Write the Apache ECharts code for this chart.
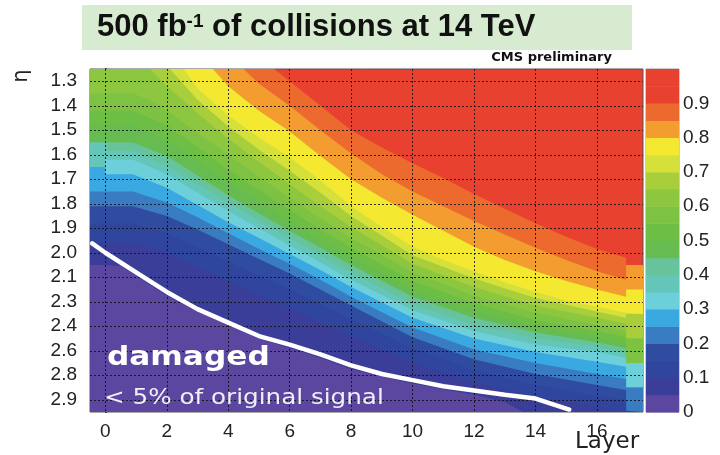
<!DOCTYPE html>
<html>
<head>
<meta charset="utf-8">
<script src="https://cdn.jsdelivr.net/npm/echarts@6/dist/echarts.min.js"></script>
<style>
  html, body { margin: 0; padding: 0; background: #ffffff; }
  #chart { width: 720px; height: 455px; }
</style>
</head>
<body>
<div id="chart"></div>
<script>
// Pseudorapidity rows (top to bottom) and layer ticks
const etaLabels = ['1.3', '1.4', '1.5', '1.6', '1.7', '1.8', '1.9', '2.0', '2.1', '2.3', '2.4', '2.6', '2.8', '2.9'];
const layerTicks = [0, 2, 4, 6, 8, 10, 12, 14, 16];
const colorbarTicks = [0, 0.1, 0.2, 0.3, 0.4, 0.5, 0.6, 0.7, 0.8, 0.9];

// Fill colours of the 20 response bands, 0-0.05 up to 0.95-1.0
const bandColors = [
  '#5b47a0', '#3b3e99', '#2f459e', '#2f4ca0', '#3a7cc1',
  '#3aa8e1', '#6ccfda', '#64c6b9', '#67c39b', '#66bc50',
  '#6cbe45', '#7dc243', '#8dc63f', '#a8cf3b', '#d6e03a',
  '#f4e930', '#f39c30', '#ec6a2e', '#e8412f', '#e8412f'
];

// Iso-response contours: [layer, row] points, row 0 = eta 1.3, row 13 = eta 2.9.
// The region below each contour has a response lower than its level.
const b90 = [[-0.5,-0.5],[5.5,-0.5],[6,0.0],[7,1.0],[8,2.0],[9,2.7],[10,3.35],[11,3.95],[12,4.6],[13,5.2],[14,5.8],[15,6.35],[16,6.85],[16.95,7.2],[16.95,7.5],[17.5,7.5]];
const b85 = [[-0.5,-0.5],[4.5,-0.5],[5,0.1],[6,1.0],[7,2.0],[8,2.95],[9,3.8],[10,4.5],[11,5.1],[12,5.7],[13,6.25],[14,6.8],[15,7.3],[16,7.75],[16.95,8.1],[16.95,7.5],[17.5,7.5]];
const b80 = [[-0.5,-0.5],[3.5,-0.5],[4,0.2],[5,1.2],[6,2.05],[7,3.05],[8,4.0],[9,4.75],[10,5.45],[11,6.1],[12,6.75],[13,7.3],[14,7.75],[15,8.15],[16,8.5],[16.95,8.8],[16.95,8.5],[17.5,8.5]];
const b75 = [[-0.5,-0.5],[2.55,-0.5],[3,0.3],[4,1.4],[5,2.3],[6,3.1],[7,4.05],[8,5.1],[9,5.95],[10,6.75],[11,7.3],[12,7.75],[13,8.2],[14,8.6],[15,8.95],[16,9.2],[16.95,9.45],[16.95,9.5],[17.5,9.5]];
const b70 = [[-0.5,-0.5],[2.1,-0.5],[3,0.75],[4,1.85],[5,2.8],[6,3.65],[7,4.55],[8,5.5],[10,7.1],[12,8.05],[14,8.85],[16,9.4],[16.95,9.65],[16.95,9.5],[17.5,9.5]];
const b65 = [[-0.5,-0.5],[1.45,-0.5],[2,0.2],[3,1.3],[4,2.35],[5,3.3],[6,4.2],[7,5.1],[8,5.95],[10,7.45],[12,8.4],[14,9.15],[16,9.65],[16.95,9.9],[16.95,10.5],[17.5,10.5]];
const b60 = [[-0.5,0.5],[0.9,0.5],[1.5,0.8],[2,1.2],[3,2.1],[4,3.0],[5,3.9],[6,4.75],[7,5.6],[8,6.4],[10,7.8],[12,8.75],[14,9.45],[16,9.95],[16.95,10.2],[16.95,10.5],[17.5,10.5]];
const b55 = [[-0.5,1.2],[0.9,1.2],[2,1.8],[3,2.7],[4,3.6],[5,4.45],[6,5.25],[7,6.05],[8,6.8],[10,8.15],[12,9.05],[14,9.75],[16,10.2],[16.95,10.45],[16.95,11.5],[17.5,11.5]];
const b50 = [[-0.5,1.8],[0.9,1.8],[2,2.4],[3,3.25],[4,4.1],[5,4.9],[6,5.7],[7,6.45],[8,7.15],[10,8.5],[12,9.35],[14,10.0],[16,10.45],[16.95,10.7],[16.95,11.5],[17.5,11.5]];
const b45 = [[-0.5,2.5],[0.9,2.5],[2,3.05],[3,3.85],[4,4.65],[5,5.4],[6,6.1],[7,6.8],[8,7.5],[10,8.8],[12,9.65],[14,10.25],[16,10.65],[16.95,10.9],[16.95,11.5],[17.5,11.5]];
const b40 = [[-0.5,2.5],[0,2.5],[0,2.85],[0.9,2.85],[2,3.45],[3,4.2],[4,4.95],[5,5.7],[6,6.4],[7,7.1],[8,7.8],[10,9.1],[12,9.95],[14,10.5],[16,10.85],[16.95,11.1],[16.95,11.5],[17.5,11.5]];
const b35 = [[-0.5,3.5],[0,3.5],[0,3.2],[0.9,3.2],[2,3.8],[3,4.55],[4,5.3],[5,6.0],[6,6.7],[7,7.4],[8,8.1],[10,9.35],[12,10.2],[14,10.75],[16,11.05],[16.95,11.3],[16.95,11.5],[17.5,11.5]];
const b30 = [[-0.5,3.5],[0,3.5],[0,3.8],[0.9,3.8],[2,4.35],[3,5.05],[4,5.75],[5,6.4],[6,7.05],[7,7.7],[8,8.4],[10,9.65],[12,10.5],[14,11.05],[16,11.45],[16.95,11.65],[16.95,12.5],[17.5,12.5]];
const b25 = [[-0.5,4.5],[0.9,4.5],[2,4.95],[3,5.55],[4,6.2],[5,6.85],[6,7.45],[7,8.1],[8,8.8],[10,10.05],[12,10.95],[14,11.5],[16,11.95],[16.95,12.15],[16.95,12.5],[17.5,12.5]];
const b20 = [[-0.5,5.1],[0.9,5.1],[2,5.5],[3,6.05],[4,6.65],[5,7.25],[6,7.85],[7,8.5],[8,9.15],[10,10.45],[12,11.35],[14,11.95],[16,12.4],[16.95,12.6],[16.95,13.5],[17.5,13.5]];
const b15 = [[-0.5,5.8],[0.9,5.8],[2,6.2],[3,6.8],[4,7.35],[5,7.95],[6,8.5],[7,9.1],[8,9.7],[10,10.9],[12,11.8],[14,12.4],[16,12.85],[16.95,13.0],[16.95,13.5],[17.5,13.5]];
const b10 = [[-0.5,6.6],[0.9,6.6],[2,7.0],[3,7.6],[4,8.15],[5,8.7],[6,9.25],[7,9.85],[8,10.4],[10,11.5],[12,12.3],[14,12.9],[16,13.3],[16.95,13.45],[16.95,13.5],[17.5,13.5]];
const b05 = [[-0.5,7.5],[0,7.5],[0.5,7.55],[1,7.95],[2,8.75],[3,9.4],[4,9.95],[5,10.5],[6,10.9],[7,11.3],[8,11.75],[10,12.35],[12,12.8],[13,13.1],[13.6,13.5],[17.5,13.5]];

const contourLevels = [0.90, 0.85, 0.80, 0.75, 0.70, 0.65, 0.60, 0.55, 0.50, 0.45, 0.40, 0.35, 0.30, 0.25, 0.20, 0.15, 0.10, 0.05];
const contourLines = [b90, b85, b80, b75, b70, b65, b60, b55, b50, b45, b40, b35, b30, b25, b20, b15, b10, b05];

// Hand-drawn limit of the damaged zone (< 5% of the original signal)
const damageLine = [[-0.43,6.62],[0,7.0],[1,7.8],[2,8.6],[3,9.3],[4,9.85],[5,10.4],[6,10.75],[7,11.15],[8,11.6],[9,11.95],[10,12.2],[11,12.45],[12,12.62],[13,12.8],[14,12.95],[14.6,13.2],[15.1,13.4]];

const rowIndex = etaLabels.map((_, i) => i);
const ROW_MIN = -0.5, ROW_MAX = 13.5, LAYER_MIN = -0.5, LAYER_MAX = 17.5;

const chart = echarts.init(document.getElementById('chart'), null, { renderer: 'canvas' });

// Filled bands: paint from the highest level down, each filling below its contour
const bandSeries = contourLines.map((pts, i) => ({
  type: 'line',
  name: 'level ' + contourLevels[i].toFixed(2),
  xAxisIndex: 0,
  yAxisIndex: 0,
  data: pts,
  symbol: 'none',
  showSymbol: false,
  silent: true,
  lineStyle: { width: 0 },
  areaStyle: {
    origin: 'end',
    opacity: 1,
    color: bandColors[Math.round(contourLevels[i] / 0.05) - 1]
  },
  z: 2
}));

const option = {
  animation: false,
  backgroundColor: '#ffffff',
  grid: [
    { left: 90, top: 69, width: 553, height: 343, show: true,
      backgroundColor: bandColors[19], borderColor: '#555', borderWidth: 1 },
    { left: 646, top: 69, width: 33, height: 343, show: true,
      borderColor: '#999', borderWidth: 1 }
  ],
  xAxis: [
    {
      gridIndex: 0, type: 'value', min: LAYER_MIN, max: LAYER_MAX,
      axisLine: { show: false },
      axisTick: { show: false },
      splitLine: { show: false },
      axisLabel: {
        customValues: layerTicks,
        fontFamily: 'Liberation Sans', fontSize: 19, color: '#222', margin: 10
      }
    },
    { gridIndex: 1, type: 'value', min: 0, max: 1, show: false }
  ],
  yAxis: [
    {
      gridIndex: 0, type: 'value', inverse: true, min: ROW_MIN, max: ROW_MAX,
      axisLine: { show: true, lineStyle: { color: '#222', width: 2 } },
      axisTick: { show: false },
      splitLine: { show: false },
      axisLabel: {
        customValues: rowIndex,
        formatter: v => etaLabels[Math.round(v)],
        fontFamily: 'Liberation Sans', fontSize: 19, color: '#222', margin: 13
      }
    },
    {
      gridIndex: 1, type: 'value', min: 0, max: 1, position: 'right',
      axisLine: { show: false },
      axisTick: { show: false },
      splitLine: { show: false },
      axisLabel: {
        customValues: colorbarTicks,
        formatter: v => (v === 0 ? '0' : v.toFixed(1)),
        fontFamily: 'Liberation Sans', fontSize: 19, color: '#222', margin: 4
      }
    }
  ],
  series: [
    ...bandSeries,
    {
      // dotted guide lines at the labelled layers and at every eta row
      type: 'line', name: 'guides', xAxisIndex: 0, yAxisIndex: 0,
      data: damageLine, symbol: 'none', silent: true, z: 4,
      lineStyle: { width: 0, opacity: 0 },
      markLine: {
        silent: true,
        animation: false,
        symbol: ['none', 'none'],
        label: { show: false },
        emphasis: { disabled: true },
        lineStyle: { color: '#111', width: 1, type: [2, 2], opacity: 0.85 },
        data: [
          ...layerTicks.map(v => ({ xAxis: v })),
          ...rowIndex.map(v => ({ yAxis: v }))
        ]
      }
    },
    {
      type: 'line', name: 'damaged limit', xAxisIndex: 0, yAxisIndex: 0,
      data: damageLine, symbol: 'none', silent: true, z: 6,
      lineStyle: { color: '#ffffff', width: 4.5, cap: 'round', join: 'round' }
    },
    {
      // colour scale
      type: 'custom', xAxisIndex: 1, yAxisIndex: 1, silent: true,
      data: bandColors.map((c, i) => [i * 0.05, (i + 1) * 0.05, i]),
      renderItem: (params, api) => {
        const top = api.coord([0, api.value(1)]);
        const bot = api.coord([1, api.value(0)]);
        return {
          type: 'rect',
          shape: { x: top[0], y: top[1], width: bot[0] - top[0], height: bot[1] - top[1] + 0.5 },
          style: { fill: bandColors[api.value(2)] }
        };
      }
    }
  ],
  graphic: [
    { type: 'rect', left: 82, top: 5, shape: { width: 550, height: 45 }, style: { fill: '#d6ebcf' }, z: 0 },
    {
      type: 'text', left: 97, top: 12, z: 1,
      style: {
        text: '{a|500 fb}{s|-1}{a| of collisions at 14 TeV}',
        rich: {
          a: { fontFamily: 'Liberation Sans', fontWeight: 'bold', fontSize: 31, fill: '#111', verticalAlign: 'bottom' },
          s: { fontFamily: 'Liberation Sans', fontWeight: 'bold', fontSize: 19, fill: '#111', verticalAlign: 'top' }
        }
      }
    },
    {
      type: 'text', right: 108, top: 51, z: 1,
      style: { text: 'CMS preliminary', fontFamily: 'DejaVu Sans', fontWeight: 'bold', fontSize: 13, fill: '#111' }
    },
    {
      type: 'text', x: 22, y: 76, rotation: Math.PI / 2, z: 1,
      style: { text: 'η', fontFamily: 'DejaVu Sans', fontSize: 21, fill: '#222', align: 'center', verticalAlign: 'middle' }
    },
    {
      type: 'text', left: 575, top: 431, z: 1,
      style: { text: 'Layer', fontFamily: 'DejaVu Sans', fontSize: 23, fill: '#222' }
    },
    {
      type: 'text', x: 107, y: 358, scaleX: 1.155, z: 10,
      style: { text: 'damaged', fontFamily: 'DejaVu Sans', fontWeight: 'bold', fontSize: 27, fill: '#ffffff', verticalAlign: 'middle' }
    },
    {
      type: 'text', x: 104, y: 398, scaleX: 1.12, z: 10,
      style: { text: '< 5% of original signal', fontFamily: 'DejaVu Sans', fontSize: 22, fill: '#f1eef8', verticalAlign: 'middle' }
    }
  ]
};

chart.setOption(option);
</script>
</body>
</html>
